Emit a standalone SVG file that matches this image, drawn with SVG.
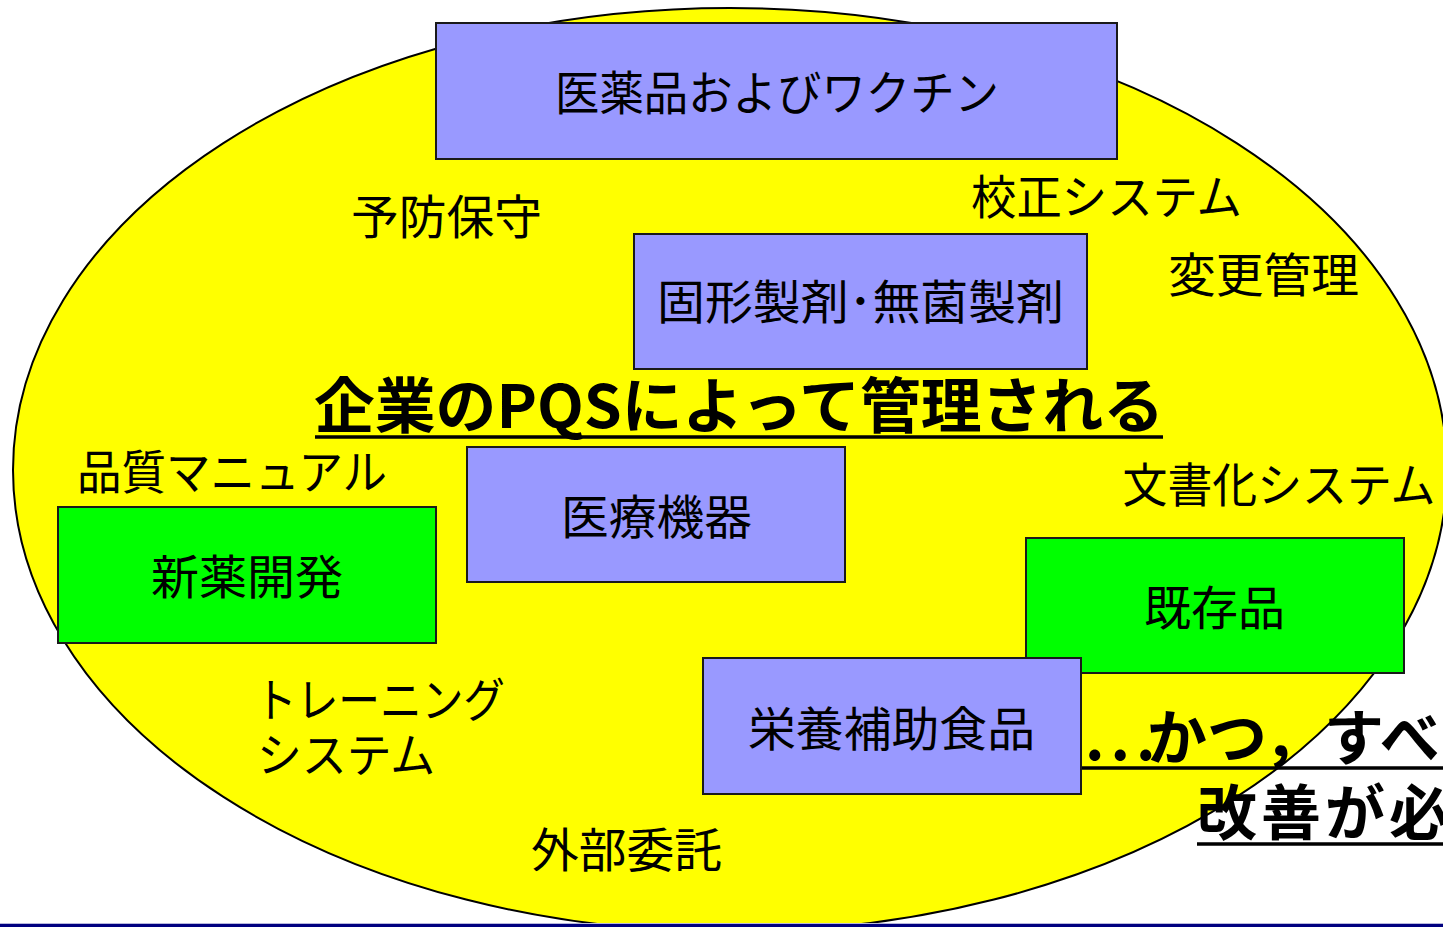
<svg xmlns="http://www.w3.org/2000/svg" width="1443" height="927" viewBox="0 0 1443 927">
<style>
.box{stroke:#1a1a1a;stroke-width:2}
.blue{fill:#9999FF}
.green{fill:#00FF00}
.t{font-family:"Noto Sans CJK JP","Noto Sans",sans-serif;font-size:47px;fill:#000}
.c{text-anchor:middle}
.b{font-family:"Noto Sans CJK JP","Noto Sans",sans-serif;font-size:60px;font-weight:bold;fill:#000}
.ul{stroke:#000;stroke-width:3.5}
</style>
<rect x="0" y="0" width="1443" height="927" fill="#ffffff"/>
<g id="ellipse">
<ellipse cx="730" cy="470" rx="717" ry="462" fill="#FFFF00" stroke="#000" stroke-width="2"/>
</g>
<g id="connectors"></g>
<g id="n-vaccine">
<rect class="box blue" x="436" y="23" width="681" height="136"/>
<text class="t c" x="777" y="110" textLength="444" lengthAdjust="spacingAndGlyphs">医薬品およびワクチン</text>
</g>
<g id="n-solid">
<rect class="box blue" x="634" y="234" width="453" height="135"/>
<text class="t c" x="860.5" y="319" textLength="407" lengthAdjust="spacingAndGlyphs">固形製剤･無菌製剤</text>
</g>
<g id="n-device">
<rect class="box blue" x="467" y="447" width="378" height="135"/>
<text class="t c" x="656.5" y="534" textLength="191" lengthAdjust="spacingAndGlyphs">医療機器</text>
</g>
<g id="n-new">
<rect class="box green" x="58" y="507" width="378" height="136"/>
<text class="t c" x="247" y="594" textLength="192" lengthAdjust="spacingAndGlyphs">新薬開発</text>
</g>
<g id="n-existing">
<rect class="box green" x="1026" y="538" width="378" height="135"/>
<text class="t c" x="1214.5" y="625" textLength="141" lengthAdjust="spacingAndGlyphs">既存品</text>
</g>
<g id="n-supplement">
<rect class="box blue" x="703" y="658" width="378" height="136"/>
<text class="t c" x="891.5" y="746" textLength="287" lengthAdjust="spacingAndGlyphs">栄養補助食品</text>
</g>
<g id="labels">
<text class="t c" x="446.5" y="234" textLength="191" lengthAdjust="spacingAndGlyphs">予防保守</text>
<text class="t c" x="1106.5" y="214" textLength="271" lengthAdjust="spacingAndGlyphs">校正システム</text>
<text class="t c" x="1263.5" y="292" textLength="191" lengthAdjust="spacingAndGlyphs">変更管理</text>
<text class="t c" x="232" y="489" textLength="310" lengthAdjust="spacingAndGlyphs">品質マニュアル</text>
<text class="t c" x="1279" y="502" textLength="313" lengthAdjust="spacingAndGlyphs">文書化システム</text>
<text class="t" x="255" y="717" textLength="250" lengthAdjust="spacingAndGlyphs">トレーニング</text>
<text class="t" x="257" y="772" textLength="178" lengthAdjust="spacingAndGlyphs">システム</text>
<text class="t c" x="626.5" y="867" textLength="191" lengthAdjust="spacingAndGlyphs">外部委託</text>
</g>
<g id="title">
<text class="b c" x="739" y="428" textLength="850" lengthAdjust="spacingAndGlyphs">企業のPQSによって管理される</text>
<line class="ul" x1="315" y1="437" x2="1163" y2="437"/>
</g>
<g id="note">
<text class="b" x="1085" y="760"><tspan letter-spacing="6">...</tspan><tspan x="1147">かつ，すべ</tspan></text>
<line class="ul" x1="1082" y1="768" x2="1443" y2="768"/>
<text class="b" x="1197" y="835" letter-spacing="4">改善が必</text>
<line class="ul" x1="1197" y1="844" x2="1443" y2="844"/>
</g>
<g id="footer">
<rect x="0" y="923" width="1443" height="1" fill="#b8b8dc"/>
<rect x="0" y="924" width="1443" height="3" fill="#000080"/>
</g>
</svg>
